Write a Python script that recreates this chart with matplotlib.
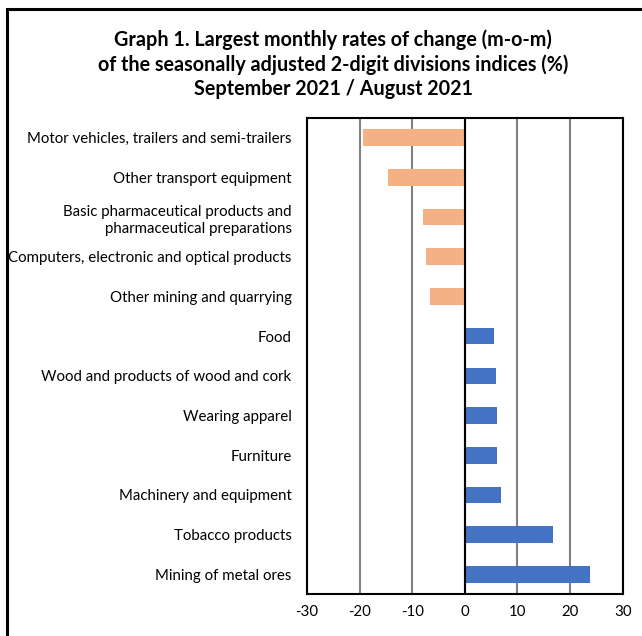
import matplotlib
matplotlib.use("Agg")
import matplotlib.pyplot as plt
from matplotlib.patches import Rectangle

plt.rcParams['font.family'] = ['Lato', 'DejaVu Sans']

# Data (top to bottom)
categories = [
    "Motor vehicles, trailers and semi-trailers",
    "Other transport equipment",
    "Basic pharmaceutical products and\npharmaceutical preparations",
    "Computers, electronic and optical products",
    "Other mining and quarrying",
    "Food",
    "Wood and products of wood and cork",
    "Wearing apparel",
    "Furniture",
    "Machinery and equipment",
    "Tobacco products",
    "Mining of metal ores",
]
values = [-19.4, -14.6, -8.0, -7.3, -6.6, 5.6, 5.9, 6.1, 6.2, 6.9, 16.8, 23.7]
x_ticks = [-30, -20, -10, 0, 10, 20, 30]

neg_color = "#F4B183"
pos_color = "#4472C4"

fig = plt.figure(figsize=(6.42, 6.36), dpi=100)
ax = fig.add_axes([0.478, 0.066, 0.492, 0.7485])

# outer frame of the chart area
fig.patches.append(Rectangle((7 / 642, -0.05), 1.1, 1 - 9 / 636 + 0.05,
                             transform=fig.transFigure, fill=False,
                             edgecolor="black", linewidth=2.2))

ypos = list(range(len(categories)))
colors = [neg_color if v < 0 else pos_color for v in values]
ax.barh(ypos, values, height=0.42, color=colors, zorder=3)

ax.set_ylim(len(categories) - 0.5, -0.5)
ax.set_xlim(-30, 30)
ax.set_xticks(x_ticks)
ax.set_xticklabels([str(t) for t in x_ticks], fontsize=10.8)
ax.set_yticks(ypos)
ax.set_yticklabels(categories, fontsize=10.8, linespacing=1.3)
ax.tick_params(length=0, pad=8)
ax.tick_params(axis="y", pad=11)

ax.xaxis.grid(True, color="#808080", linewidth=1.5, zorder=0)
ax.axvline(0, color="black", linewidth=1.5, zorder=4)
for s in ax.spines.values():
    s.set_linewidth(1.5)
    s.set_color("black")

fig.text(0.519, 0.899, "Graph 1. Largest monthly rates of change (m-o-m)\n"
         "of the seasonally adjusted 2-digit divisions indices (%)\n"
         "September 2021 / August 2021",
         ha="center", va="center", fontsize=14.2, fontweight="bold",
         linespacing=1.28)

fig.savefig("out.png", dpi=100)
